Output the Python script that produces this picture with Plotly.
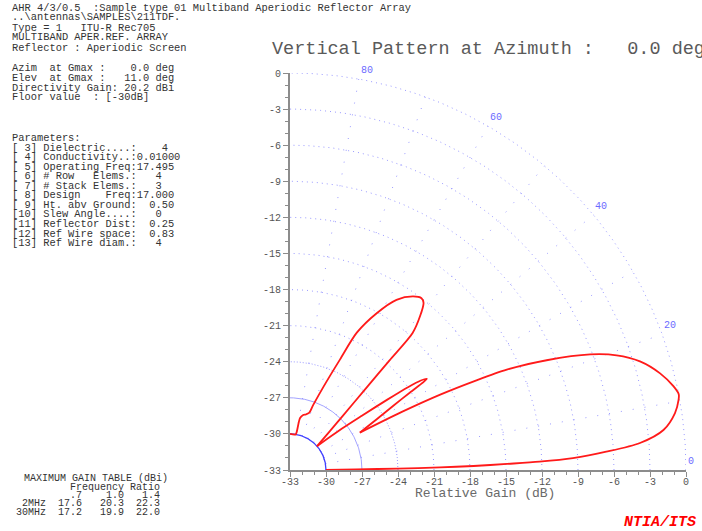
import numpy as np
import plotly.graph_objects as go

# ---------------- data ----------------
elev_deg = [0, 0.5, 0.75, 1.0, 1.25, 1.6, 1.9, 2.4, 3.3, 4.4, 6.1, 8.4, 10.2, 11.0,
            12.3, 14.6, 17.2, 19.3, 21.0, 23.1, 24.8, 25.7, 26.6, 27.4, 28.1,
            30.3, 31.8, 32.8, 33.6, 34.3, 35.0, 35.8, 37.0, 38.5, 41.3,
            44.0, 45.5, 47.0, 47.7, 48.1, 49.7, 51.3, 52.5, 54.6, 57.9, 61.0,
            64.0, 65.6, 68.0, 70.3, 71.5, 74.0, 76.5, 79.0, 80.0, 81.0, 90.0]
gain_db = [-30, -27.5, -24, -20.5, -17.7, -14.9, -12.2, -9.4, -6.6, -3.75, -1.7, -0.57, -0.1, 0.0,
           -0.3, -1.13, -2.47, -4.16, -6.2, -9.75, -13.1, -16.0, -19.0, -22.5, -26.4,
           -24.6, -22.9, -21.1, -19.3, -19.8, -21.0, -23.0, -25.5, -27.5, -30,
           -28.5, -26.9, -23.8, -20.7, -17.7, -16.25, -15.2, -15.0, -15.3, -16.3, -18.1,
           -20.3, -22.9, -25.5, -27.25, -28.0, -28.2, -28.3, -28.6, -29.8, -30, -30]
null_angles = [28.1, 41.3]   # sharp nulls between lobes

floor_db = -30
gain_min = -33
tick_vals = list(range(-33, 1, 3))
tick_text = ["-33", "-30", "-27", "-24", "-21", "-18", "-15", "-12", "-9", "-6", "-3", "0"]
angle_labels = [80, 60, 40, 20, 0]
radial_angles = [10, 20, 30, 40, 50, 60, 70, 80]
arc_radii_dotted = [1, 2, 12, 15, 18, 21, 24, 27, 30, 33]

header_lines = [
    "AHR 4/3/0.5  :Sample type 01 Multiband Aperiodic Reflector Array",
    r"..\antennas\SAMPLES\211TDF.",
    "Type = 1   ITU-R Rec705",
    "MULTIBAND APER.REF. ARRAY",
    "Reflector : Aperiodic Screen",
]
gmax_lines = [
    "Azim  at Gmax :    0.0 deg",
    "Elev  at Gmax :   11.0 deg",
    "Directivity Gain: 20.2 dBi",
    "Floor value  : [-30dB]",
]
param_lines = [
    "Parameters:",
    "[ 3] Dielectric....:    4",
    "[ 4] Conductivity..:0.01000",
    "[ 5] Operating Freq:17.495",
    "[ 6] # Row   Elems.:   4",
    "[ 7] # Stack Elems.:   3",
    "[ 8] Design    Freq:17.000",
    "[ 9] Ht. abv Ground:  0.50",
    "[10] Slew Angle....:   0",
    "[11] Reflector Dist:  0.25",
    "[12] Ref Wire space:  0.83",
    "[13] Ref Wire diam.:   4",
]
table_title = "MAXIMUM GAIN TABLE (dBi)"
table_sub = "Frequency Ratio"
table_ratios = ".7    1.0   1.4"
table_rows = ["2MHz  17.6   20.3  22.3", "30MHz  17.2   19.9  22.0"]

# ---------------- layout helpers ----------------
W, H = 702, 531
L, R, T, B = 290, 16, 73, 61
PW, PH = W - L - R, H - T - B
MONO = "Liberation Mono"


def px(x):
    return (x - L) / PW


def py(y):
    return (H - B - y) / PH


def nb(s):
    return s.replace(" ", "\u00a0")


def to_xy(ang_deg, g):
    a = np.radians(np.asarray(ang_deg, dtype=float))
    rr = np.maximum(np.asarray(g, dtype=float), floor_db) - gain_min
    return gain_min + rr * np.cos(a), gain_min + rr * np.sin(a)


fig = go.Figure()

grid_col = "rgba(120,120,255,0.75)"
for a in radial_angles:
    xs, ys = to_xy([a, a], [gain_min, 0])
    fig.add_trace(go.Scatter(x=xs, y=ys, mode="lines", hoverinfo="skip",
                             line=dict(color=grid_col, width=1, dash="1px,11px")))

arc_t = np.linspace(0, 90, 241)
for rad in arc_radii_dotted:
    xs, ys = to_xy(arc_t, np.full_like(arc_t, gain_min + rad))
    fig.add_trace(go.Scatter(x=xs, y=ys, mode="lines", hoverinfo="skip",
                             line=dict(color=grid_col, width=1, dash="1px,4px")))
xs, ys = to_xy(arc_t, np.full_like(arc_t, gain_min + 9))
fig.add_trace(go.Scatter(x=xs, y=ys, mode="lines", hoverinfo="skip",
                         line=dict(color=grid_col, width=1, dash="1px,2px")))
xs, ys = to_xy(arc_t, np.full_like(arc_t, gain_min + 6))
fig.add_trace(go.Scatter(x=xs, y=ys, mode="lines", hoverinfo="skip",
                         line=dict(color="rgba(140,140,255,0.8)", width=1)))
xs, ys = to_xy(arc_t, np.full_like(arc_t, floor_db))
fig.add_trace(go.Scatter(x=xs, y=ys, mode="lines", hoverinfo="skip",
                         line=dict(color="#4040ff", width=1.3)))

# pattern, one smoothed piece per lobe (nulls stay sharp)
ea = np.asarray(elev_deg, dtype=float)
ga = np.asarray(gain_db, dtype=float)
cuts = [0] + [int(np.argmin(np.abs(ea - n))) for n in null_angles] + [len(ea) - 1]
for i0, i1 in zip(cuts[:-1], cuts[1:]):
    xs, ys = to_xy(ea[i0:i1 + 1], ga[i0:i1 + 1])
    fig.add_trace(go.Scatter(x=xs, y=ys, mode="lines", hoverinfo="skip",
                             line=dict(color="#ff1a1a", width=1.8, shape="spline", smoothing=0.8)))

axis_common = dict(
    range=[gain_min, 0], tickvals=tick_vals, ticktext=tick_text,
    ticks="outside", ticklen=5, tickwidth=1, tickcolor="#8c8c8c",
    showline=True, linewidth=2, linecolor="#8c8c8c",
    showgrid=False, zeroline=False, fixedrange=True,
    tickfont=dict(family=MONO, size=10, color="#555555"),
    minor=dict(dtick=1, ticks="outside", ticklen=3, tickcolor="#8c8c8c", tickwidth=1),
)

fig.update_layout(
    width=W, height=H, margin=dict(l=L, r=R, t=T, b=B, pad=0),
    paper_bgcolor="white", plot_bgcolor="white", showlegend=False,
    xaxis=dict(**axis_common, ticklabelstandoff=-4),
    yaxis=dict(**axis_common),
)

ann = []


def text_at(s, x, y, size=10.4, color="#333333", xanchor="left", **kw):
    ann.append(dict(text=nb(s), x=px(x), y=py(y), xref="paper", yref="paper",
                    xanchor=xanchor, yanchor="middle", showarrow=False,
                    font=dict(family=MONO, size=size, color=color), **kw))


header_y = [8.5, 17, 27.5, 37.5, 47.5]
for s, y in zip(header_lines, header_y):
    text_at(s, 10, y)
for i, s in enumerate(gmax_lines):
    text_at(s, 10, 68 + i * 9.8)
for i, s in enumerate(param_lines):
    text_at(s, 10, 138 + i * 9.55)

text_at(table_title, 22, 478, size=10)
text_at(table_sub, 68, 487, size=10)
text_at(table_ratios, 68, 495, size=10)
text_at(table_rows[0], 20, 503.5, size=10)
text_at(table_rows[1], 14, 512, size=10)

text_at("Vertical Pattern at Azimuth :   0.0 deg", 270, 50, size=18.5, color="#5a5a5a")
text_at("Relative Gain (dB)", 485, 493, size=13, color="#6a6a6a", xanchor="center")
ann.append(dict(text="<b><i>NTIA/ITS</i></b>", x=px(698), y=py(522), xref="paper", yref="paper",
                xanchor="right", yanchor="middle", showarrow=False,
                font=dict(family=MONO, size=15, color="#ff0000")))

for a in angle_labels:
    lx, ly = to_xy([a], [0])
    ann.append(dict(text=str(a), x=float(lx[0]), y=float(ly[0]), xref="x", yref="y",
                    xanchor="left", yanchor="bottom", showarrow=False, xshift=0, yshift=1,
                    font=dict(family=MONO, size=10, color="#6b6bff")))

fig.update_layout(annotations=ann)
fig.write_html("out.html", config={"displayModeBar": False},
               post_script="document.body.style.margin='0px';")
